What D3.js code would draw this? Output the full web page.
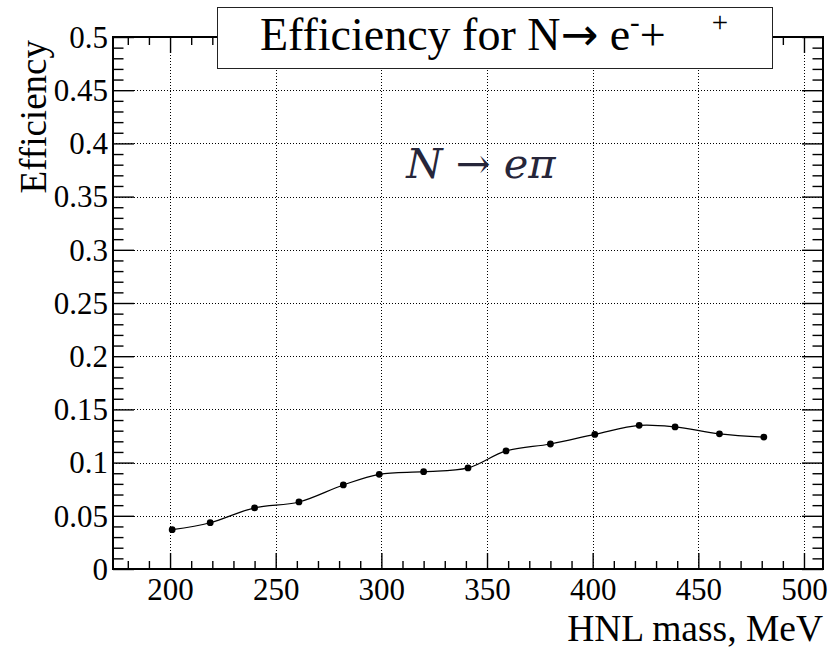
<!DOCTYPE html>
<html>
<head>
<meta charset="utf-8">
<script src="https://cdn.jsdelivr.net/npm/d3@7"></script>
<style>
  html, body { margin: 0; padding: 0; background: #fff; }
  svg { display: block; }
  .axis path.domain { display: none; }
  .axis line { stroke: #000; stroke-width: 1.4; }
</style>
</head>
<body>
<svg id="chart" width="839" height="648"></svg>
<script>
// HNL mass points (MeV) and reconstruction efficiency
const massMeV = [201, 219, 240, 261, 282, 299, 320, 341, 359, 380, 401, 422, 439, 460, 481];
const efficiency = [0.037, 0.0435, 0.0575, 0.063, 0.079, 0.089, 0.0915, 0.095, 0.111, 0.1175, 0.1265, 0.135, 0.1335, 0.127, 0.124];

// axis ranges and ticks
const xRange = [173, 509];
const yRange = [0, 0.5];
const xMajorTicks = [200, 250, 300, 350, 400, 450, 500];
const xMinorTicks = [180, 190, 210, 220, 230, 240, 260, 270, 280, 290, 310, 320, 330, 340, 360, 370, 380, 390, 410, 420, 430, 440, 460, 470, 480, 490];
const yMajorTicks = [0, 0.05, 0.1, 0.15, 0.2, 0.25, 0.3, 0.35, 0.4, 0.45, 0.5];
const yTickLabels = ["0", "0.05", "0.1", "0.15", "0.2", "0.25", "0.3", "0.35", "0.4", "0.45", "0.5"];
const yMinorTicks = d3.range(0, 51).map(i => i / 100).filter(v => !yMajorTicks.some(m => Math.abs(m - v) < 1e-9));

const serif = "'Liberation Serif', 'Times New Roman', serif";
const frame = { left: 113, right: 823, top: 37, bottom: 569 };
const svg = d3.select("#chart");

const x = d3.scaleLinear().domain(xRange).range([frame.left, frame.right]);
const y = d3.scaleLinear().domain(yRange).range([frame.bottom, frame.top]);

// dotted grid at the major ticks
const grid = svg.append("g").attr("stroke", "#000").attr("stroke-width", 1).attr("stroke-dasharray", "1,2");
grid.selectAll("line.gx").data(xMajorTicks).join("line")
  .attr("x1", d => Math.round(x(d)) + 0.5).attr("x2", d => Math.round(x(d)) + 0.5)
  .attr("y1", frame.top).attr("y2", frame.bottom);
grid.selectAll("line.gy").data(yMajorTicks.slice(1, -1)).join("line")
  .attr("y1", d => Math.round(y(d)) + 0.5).attr("y2", d => Math.round(y(d)) + 0.5)
  .attr("x1", frame.left).attr("x2", frame.right);

const W = frame.right - frame.left;
const H = frame.bottom - frame.top;
const xMajLen = 16, xMinLen = 8, yMajLen = 21, yMinLen = 10.5;

// bottom axis with labels
const bottom = svg.append("g").attr("class", "axis").attr("transform", `translate(0,${frame.bottom})`);
bottom.call(d3.axisBottom(x).tickValues(xMajorTicks).tickSize(-xMajLen).tickPadding(9).tickFormat(d3.format("d")));
bottom.selectAll("text").attr("font-size", 31).attr("font-family", serif).attr("fill", "#000");
svg.append("g").attr("class", "axis").attr("transform", `translate(0,${frame.bottom})`)
  .call(d3.axisBottom(x).tickValues(xMinorTicks).tickSize(-xMinLen).tickFormat(""));

// top axis, ticks only
svg.append("g").attr("class", "axis").attr("transform", `translate(0,${frame.top})`)
  .call(d3.axisTop(x).tickValues(xMajorTicks).tickSize(-xMajLen).tickFormat(""));
svg.append("g").attr("class", "axis").attr("transform", `translate(0,${frame.top})`)
  .call(d3.axisTop(x).tickValues(xMinorTicks).tickSize(-xMinLen).tickFormat(""));

// left axis with labels
const left = svg.append("g").attr("class", "axis").attr("transform", `translate(${frame.left},0)`);
left.call(d3.axisLeft(y).tickValues(yMajorTicks).tickSize(-yMajLen).tickPadding(5)
  .tickFormat((d, i) => yTickLabels[i]));
left.selectAll("text").attr("font-size", 31).attr("font-family", serif).attr("fill", "#000").attr("dy", "0.33em");
svg.append("g").attr("class", "axis").attr("transform", `translate(${frame.left},0)`)
  .call(d3.axisLeft(y).tickValues(yMinorTicks).tickSize(-yMinLen).tickFormat(""));

// right axis, ticks only
svg.append("g").attr("class", "axis").attr("transform", `translate(${frame.right},0)`)
  .call(d3.axisRight(y).tickValues(yMajorTicks).tickSize(-yMajLen).tickFormat(""));
svg.append("g").attr("class", "axis").attr("transform", `translate(${frame.right},0)`)
  .call(d3.axisRight(y).tickValues(yMinorTicks).tickSize(-yMinLen).tickFormat(""));

// plot frame
svg.append("rect")
  .attr("x", frame.left).attr("y", frame.top).attr("width", W).attr("height", H)
  .attr("fill", "none").attr("stroke", "#000").attr("stroke-width", 2);

// smooth curve through the points
const points = massMeV.map((m, i) => [m, efficiency[i]]);
const line = d3.line().x(d => x(d[0])).y(d => y(d[1])).curve(d3.curveCatmullRom.alpha(0.5));
svg.append("path").datum(points)
  .attr("d", line).attr("fill", "none").attr("stroke", "#000").attr("stroke-width", 1.2);
svg.selectAll("circle.pt").data(points).join("circle")
  .attr("class", "pt")
  .attr("cx", d => x(d[0])).attr("cy", d => y(d[1])).attr("r", 3.4).attr("fill", "#000");

// axis titles
svg.append("text")
  .attr("x", frame.right).attr("y", 641)
  .attr("text-anchor", "end").attr("font-family", serif).attr("font-size", 37.5)
  .text("HNL mass, MeV");
svg.append("text")
  .attr("transform", `translate(46,${frame.top + 3}) rotate(-90)`)
  .attr("text-anchor", "end").attr("font-family", serif).attr("font-size", 37)
  .text("Efficiency");

// title box
svg.append("rect")
  .attr("x", 217.5).attr("y", 7.5).attr("width", 555).attr("height", 61)
  .attr("fill", "#fff").attr("stroke", "#222").attr("stroke-width", 1);
const title = svg.append("text")
  .attr("x", 494).attr("y", 50)
  .attr("text-anchor", "middle").attr("font-family", serif).attr("font-size", 46);
title.append("tspan").text("Efficiency for N");
title.append("tspan").attr("font-family", "'DejaVu Sans', sans-serif").attr("font-size", 45).text("\u2192");
title.append("tspan").text(" e");
title.append("tspan").attr("font-size", 29).attr("dy", -18).text("-");
title.append("tspan").attr("dy", 18).text("+\u2002\u2002");
title.append("tspan").attr("font-size", 29).attr("dy", -18).text("+");

// decay channel annotation
const chan = svg.append("text")
  .attr("x", 481).attr("y", 178)
  .attr("text-anchor", "middle").attr("font-family", "'DejaVu Serif', serif")
  .attr("font-size", 41.5).attr("fill", "#26263a");
chan.append("tspan").attr("font-style", "italic").text("N");
chan.append("tspan").text(" \u2192 ");
chan.append("tspan").attr("font-style", "italic").text("e\u03c0");
</script>
</body>
</html>
